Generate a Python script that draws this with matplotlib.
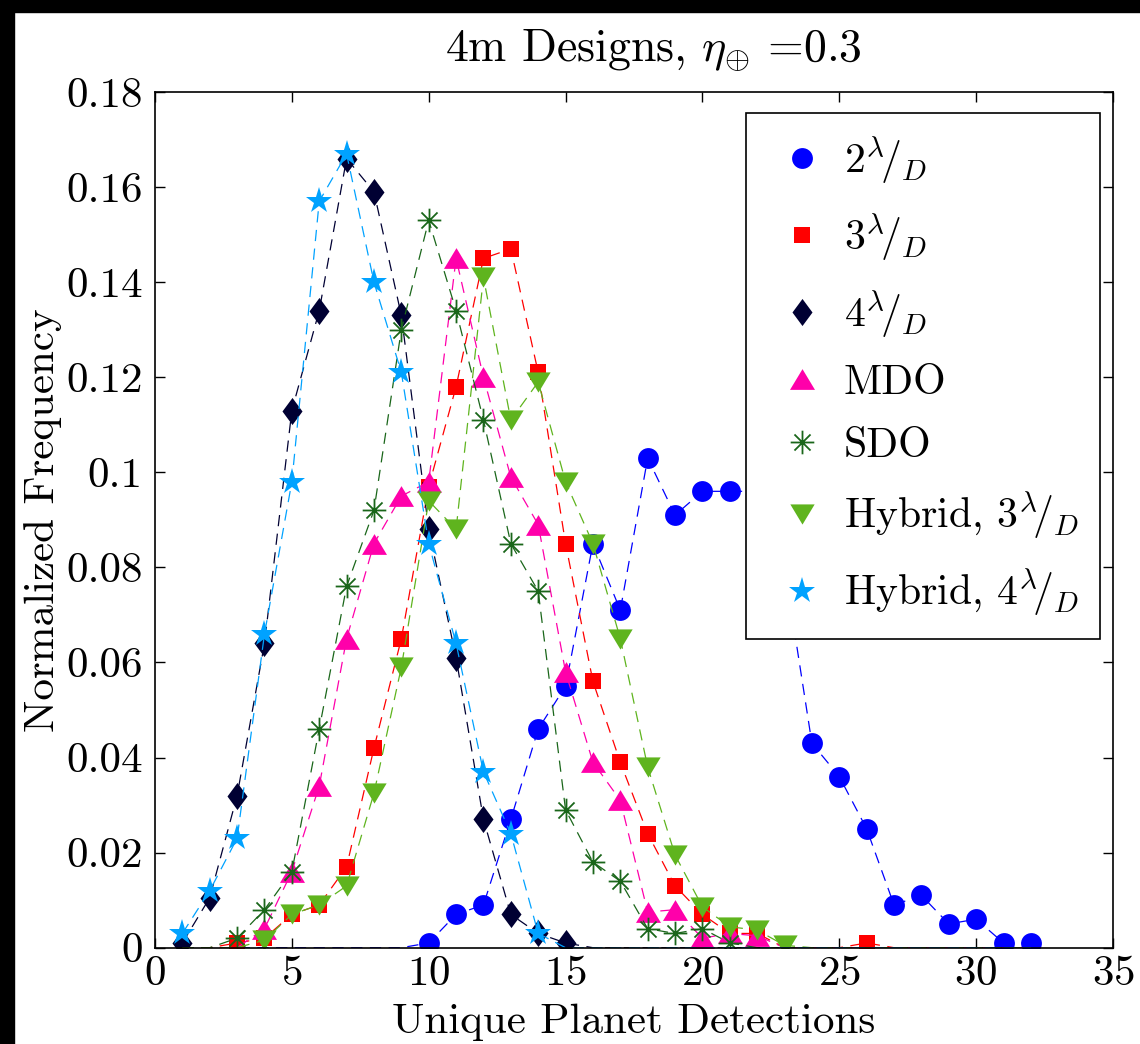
import numpy as np
import matplotlib
matplotlib.use('Agg')
import matplotlib.pyplot as plt
from matplotlib.lines import Line2D
from matplotlib.patches import Rectangle
from matplotlib.path import Path

plt.rcParams['font.family'] = 'serif'
plt.rcParams['font.serif'] = ['cmr10']
plt.rcParams['mathtext.fontset'] = 'cm'
plt.rcParams['axes.unicode_minus'] = False
plt.rcParams['axes.formatter.use_mathtext'] = True

# unique planet detections (bins)
detections = np.arange(1, 33)

# normalized frequency per design
freq_2ld = [0, 0, 0, 0, 0, 0, 0, 0, 0, 0.001, 0.007, 0.009, 0.027, 0.046, 0.055, 0.085,
            0.071, 0.103, 0.091, 0.096, 0.096, 0.096, 0.080, 0.043, 0.036, 0.025, 0.009,
            0.011, 0.005, 0.006, 0.001, 0.001]
freq_3ld = [0, 0, 0.001, 0.002, 0.007, 0.009, 0.017, 0.042, 0.065, 0.097, 0.118, 0.145,
            0.147, 0.121, 0.085, 0.056, 0.039, 0.024, 0.013, 0.007, 0.003, 0.003, 0, 0,
            0, 0.001, 0, 0, 0, 0, 0, 0]
freq_4ld = [0.001, 0.0105, 0.032, 0.064, 0.113, 0.134, 0.166, 0.159, 0.133, 0.088, 0.061,
            0.027, 0.007, 0.003, 0.001, 0, 0, 0, 0, 0, 0, 0, 0, 0, 0, 0, 0, 0, 0, 0, 0, 0]
freq_mdo = [0, 0, 0, 0.004, 0.016, 0.034, 0.065, 0.085, 0.095, 0.098, 0.145, 0.120, 0.099,
            0.089, 0.058, 0.039, 0.031, 0.0075, 0.008, 0.002, 0.003, 0.0025, 0, 0, 0, 0,
            0, 0, 0, 0, 0, 0]
freq_sdo = [0, 0, 0.002, 0.008, 0.016, 0.046, 0.076, 0.092, 0.130, 0.153, 0.134, 0.111,
            0.085, 0.075, 0.029, 0.018, 0.014, 0.004, 0.003, 0.004, 0.001, 0, 0, 0, 0, 0,
            0, 0, 0, 0, 0, 0]
freq_hyb3 = [0, 0, 0, 0.0016, 0.007, 0.009, 0.013, 0.0325, 0.059, 0.094, 0.088, 0.141,
             0.111, 0.119, 0.098, 0.085, 0.065, 0.038, 0.0195, 0.0086, 0.0044, 0.0037,
             0.0005, 0, 0, 0, 0, 0, 0, 0, 0, 0]
freq_hyb4 = [0.003, 0.012, 0.023, 0.066, 0.098, 0.157, 0.167, 0.140, 0.121, 0.085, 0.064,
             0.037, 0.024, 0.003, 0, 0, 0, 0, 0, 0, 0, 0, 0, 0, 0, 0, 0, 0, 0, 0, 0, 0]

labels = [r'$2^{\lambda}\!/_{D}$', r'$3^{\lambda}\!/_{D}$', r'$4^{\lambda}\!/_{D}$',
          'MDO', 'SDO', r'Hybrid, $3^{\lambda}\!/_{D}$', r'Hybrid, $4^{\lambda}\!/_{D}$']

# marker shapes close to the matlab ones
tall_diamond = [(0, 1), (0.74, 0), (0, -1), (-0.74, 0), (0, 1)]
up_tri = [(0, 0.83), (-1, -0.83), (1, -0.83), (0, 0.83)]
down_tri = [(0, -0.83), (-1, 0.83), (1, 0.83), (0, -0.83)]
d = 0.68
asterisk = Path([(-1, 0), (1, 0), (0, -1), (0, 1), (-d, -d), (d, d), (-d, d), (d, -d)],
                [Path.MOVETO, Path.LINETO] * 4)

styles = [
    dict(color='#0000FF', marker='o', ms=15),
    dict(color='#FF0000', marker='s', ms=12),
    dict(color='#000033', marker=tall_diamond, ms=19.5),
    dict(color='#FF00AA', marker=up_tri, ms=18),
    dict(color='#1A661A', marker=asterisk, ms=17, mfc='none', mew=1.3),
    dict(color='#5FB41E', marker=down_tri, ms=17.5),
    dict(color='#00A2FF', marker='*', ms=20),
]
series = [freq_2ld, freq_3ld, freq_4ld, freq_mdo, freq_sdo, freq_hyb3, freq_hyb4]

fig = plt.figure(figsize=(11.4, 10.44), dpi=100)
ax = fig.add_axes([155 / 1140, 1 - 947.7 / 1044, (1113 - 155) / 1140, (947.7 - 92) / 1044])

handles = []
for vals, st in zip(series, styles):
    vals = np.array(vals)
    st = dict(st)
    mfc = st.pop('mfc', st['color'])
    mew = st.pop('mew', 0)
    ax.plot(detections, vals, ls=(0, (9, 6)), lw=0.9, markevery=list(vals > 0),
            mfc=mfc, mec=st['color'], mew=mew, **st)
    handles.append(Line2D([], [], ls='none', mfc=mfc, mec=st['color'], mew=mew, **st))

ax.set_xlim(0, 35)
ax.set_ylim(0, 0.18)
ax.set_xticks(np.arange(0, 36, 5))
ax.set_yticks(np.arange(0, 0.181, 0.02))
ax.set_yticklabels(['0', '0.02', '0.04', '0.06', '0.08', '0.1', '0.12', '0.14', '0.16', '0.18'])
ax.tick_params(direction='in', top=True, right=True, length=7, width=1, labelsize=31, pad=6)
ax.tick_params(axis='y', pad=9)
for sp in ax.spines.values():
    sp.set_linewidth(1.2)

ax.set_xlabel('Unique Planet Detections', fontsize=31, labelpad=7)
ax.set_ylabel('Normalized Frequency', fontsize=31, labelpad=3)
ax.set_title(r'4m Designs, $\eta_{\oplus}$ =0.3', fontsize=33, pad=22, x=0.52)

leg = ax.legend(handles, labels, loc='upper right', bbox_to_anchor=(0.9864, 0.9755),
                borderaxespad=0, fontsize=30, fancybox=False, framealpha=1,
                edgecolor='black', handlelength=1.7, handletextpad=0.15,
                labelspacing=0.6, borderpad=0.5)
leg.get_frame().set_linewidth(1.2)

# black screenshot border on top and left
fig.patches.append(Rectangle((0, 1 - 12 / 1044), 1, 12 / 1044, transform=fig.transFigure,
                             color='black', zorder=10))
fig.patches.append(Rectangle((0, 0), 14 / 1140, 1, transform=fig.transFigure,
                             color='black', zorder=10))

fig.savefig('out.png', dpi=100)
